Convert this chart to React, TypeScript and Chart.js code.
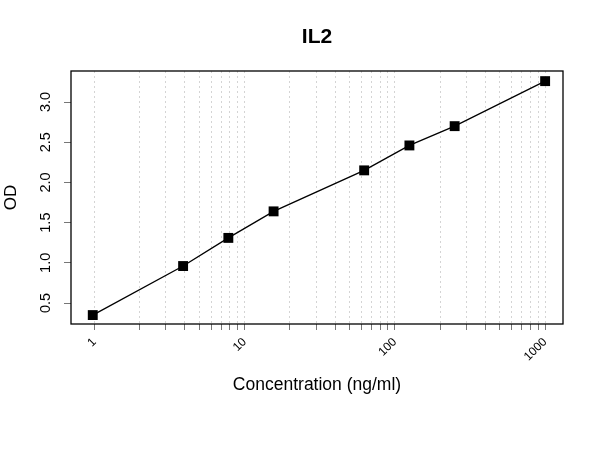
import React, { useEffect, useRef } from "react";
import { Chart, registerables } from "chart.js";

Chart.register(...registerables);

// ---- data ----
const concentrations = [0.977, 3.9, 7.8, 15.6, 62.5, 125, 250, 1000];
const odValues = [0.35, 0.96, 1.31, 1.64, 2.15, 2.46, 2.7, 3.26];
const xGridValues = [
  1, 2, 3, 4, 5, 6, 7, 8, 9,
  10, 20, 30, 40, 50, 60, 70, 80, 90,
  100, 200, 300, 400, 500, 600, 700, 800, 900,
  1000,
];
const xTickLabels = ["1", "10", "100", "1000"];
const yTickValues = [0.5, 1.0, 1.5, 2.0, 2.5, 3.0];
const chartTitle = "IL2";
const xAxisTitle = "Concentration (ng/ml)";
const yAxisTitle = "OD";

const FONT = "'Liberation Sans', Arial, Helvetica, sans-serif";

export default function App() {
  const canvasRef = useRef<HTMLCanvasElement | null>(null);

  useEffect(() => {
    const canvas = canvasRef.current;
    if (!canvas) return;

    const textPlugin = {
      id: "rTexts",
      beforeDatasetsDraw(chart: any) {
        const { ctx, chartArea } = chart;
        ctx.save();
        ctx.strokeStyle = "#000";
        ctx.lineWidth = 1.3;
        ctx.strokeRect(
          chartArea.left,
          chartArea.top,
          chartArea.right - chartArea.left,
          chartArea.bottom - chartArea.top
        );
        ctx.restore();
      },
      afterDraw(chart: any) {
        const { ctx, chartArea } = chart;
        const cx = (chartArea.left + chartArea.right) / 2;
        const cy = (chartArea.top + chartArea.bottom) / 2;
        ctx.save();
        ctx.fillStyle = "#000";
        ctx.textAlign = "center";
        ctx.textBaseline = "middle";
        ctx.font = `bold 21px ${FONT}`;
        ctx.fillText(chartTitle, cx, 37);
        ctx.font = `17.5px ${FONT}`;
        ctx.fillText(xAxisTitle, cx, 385);
        ctx.translate(11, cy);
        ctx.rotate(-Math.PI / 2);
        ctx.font = `17px ${FONT}`;
        ctx.fillText(yAxisTitle, 0, 0);
        ctx.restore();
      },
    };

    const chart = new Chart(canvas, {
      type: "line",
      data: {
        datasets: [
          {
            data: concentrations.map((c, i) => ({ x: c, y: odValues[i] })),
            borderColor: "#000",
            backgroundColor: "#000",
            borderWidth: 1.3,
            pointStyle: "rect",
            pointRadius: 7,
            pointHoverRadius: 7,
            pointBorderWidth: 0,
            tension: 0,
          },
        ],
      },
      options: {
        animation: false,
        responsive: false,
        maintainAspectRatio: false,
        layout: { padding: { left: 0, right: 37, top: 71, bottom: 0 } },
        plugins: {
          legend: { display: false },
          title: { display: false },
          tooltip: { enabled: false },
        },
        scales: {
          x: {
            type: "logarithmic",
            min: 0.714,
            max: 1315,
            afterBuildTicks: (scale: any) => {
              scale.ticks = xGridValues.map((v) => ({ value: v }));
            },
            afterFit: (scale: any) => {
              scale.height = 126;
            },
            ticks: {
              autoSkip: false,
              minRotation: 45,
              maxRotation: 45,
              padding: 5,
              color: "#000",
              font: { family: FONT, size: 12 },
              callback: (value: any) => {
                const s = String(value);
                return xTickLabels.includes(s) ? s : "";
              },
            },
            grid: {
              display: true,
              color: "#d4d4d4",
              lineWidth: 1,
              drawTicks: true,
              tickLength: 6,
              tickColor: "#777",
              tickWidth: 1,
              tickBorderDash: [],
            },
            border: { display: false, dash: [2, 3] },
          },
          y: {
            type: "linear",
            min: 0.239,
            max: 3.386,
            afterBuildTicks: (scale: any) => {
              scale.ticks = yTickValues.map((v) => ({ value: v }));
            },
            afterFit: (scale: any) => {
              scale.width = 71;
            },
            ticks: {
              autoSkip: false,
              minRotation: 90,
              maxRotation: 90,
              crossAlign: "center",
              padding: 8,
              color: "#000",
              font: { family: FONT, size: 14.5 },
              callback: (value: any) => Number(value).toFixed(1),
            },
            grid: {
              display: true,
              drawOnChartArea: false,
              drawTicks: true,
              tickLength: 7,
              tickColor: "#777",
              color: "#777",
            },
            border: { display: false },
          },
        },
      },
      plugins: [textPlugin],
    } as any);

    return () => {
      chart.destroy();
    };
  }, []);

  return (
    <div
      style={{
        position: "fixed",
        left: 0,
        top: 0,
        width: 600,
        height: 450,
        background: "#fff",
      }}
    >
      <canvas ref={canvasRef} width={600} height={450} style={{ width: 600, height: 450 }} />
    </div>
  );
}
